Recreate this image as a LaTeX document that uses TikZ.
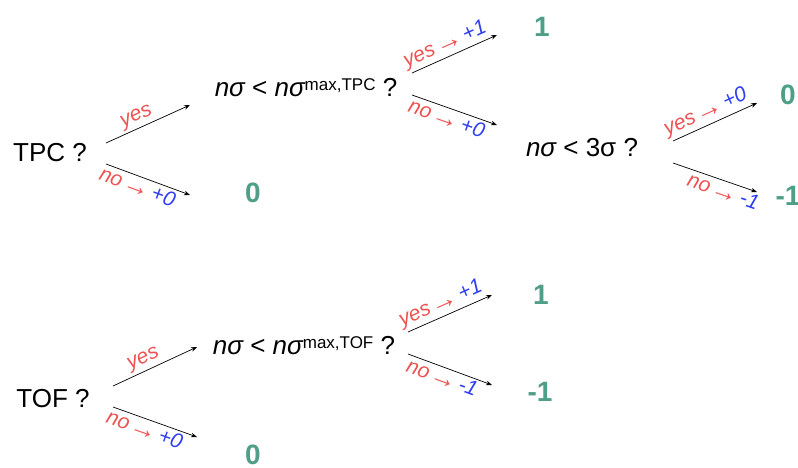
\documentclass[tikz,border=0pt]{standalone}
\usepackage{fontspec}
\setmainfont{Liberation Sans}
\usetikzlibrary{arrows.meta}
\definecolor{lblred}{HTML}{EE5252}
\definecolor{lblblue}{HTML}{2F3EEF}
\definecolor{resgreen}{HTML}{4E9E88}
\newcommand\bluepart[1]{\textcolor{lblblue}{#1}}
\newcommand\lblarrow{\hspace{2pt}{\fontsize{27}{27}\selectfont\raisebox{-1.5pt}{→}}\hspace{3pt}}
\newcommand\supsmall[1]{\raisebox{6pt}{\fontsize{17}{20}\selectfont #1}}
\tikzset{
 question/.style={font=\fontsize{26}{30}\selectfont, inner sep=0pt},
 result/.style={font=\fontsize{28}{32}\selectfont\bfseries, text=resgreen, inner sep=0pt},
 branch/.style={-{Stealth[length=6pt,width=4.5pt]}, line width=0.7pt},
 lbl/.style={font=\fontsize{21}{24}\selectfont\itshape, text=lblred, sloped, inner sep=2.5pt},
}
\begin{document}
\begin{tikzpicture}[x=1pt,y=-1pt]
\useasboundingbox (0,0) rectangle (798,468);
% ---------- upper tree ----------
\node[question] (tpc) at (50,153) {TPC ?};
\node[question] (q1) at (306,88) {{\itshape nσ} < {\itshape nσ}\supsmall{max,TPC} ?};
\node[result] (r0a) at (253,193) {0};
\node[result] (r1a) at (542,27) {1};
\node[question] (q2) at (582,148) {{\itshape nσ} < 3σ ?};
\node[result] (r0b) at (788,95) {0};
\node[result] (rm1a) at (788,196) {-1};

\coordinate (t1s) at (106,143); \coordinate (t1e) at (190,105);
\coordinate (t2s) at (106,164); \coordinate (t2e) at (190,195);
\coordinate (q1ys) at (412,73); \coordinate (q1ye) at (497,35);
\coordinate (q1ns) at (412,95); \coordinate (q1ne) at (497,125);
\coordinate (q2ys) at (673,141); \coordinate (q2ye) at (757,103);
\coordinate (q2ns) at (673,163); \coordinate (q2ne) at (757,192);

\draw[branch] (t1s) -- node[lbl,above,pos=0.42] {yes} (t1e);
\draw[branch] (t2s) -- node[lbl,below,pos=0.42] {no\lblarrow\bluepart{+0}} (t2e);
\draw[branch] (q1ys) -- node[lbl,above,pos=0.45] {yes\lblarrow\bluepart{+1}} (q1ye);
\draw[branch] (q1ns) -- node[lbl,below,pos=0.45] {no\lblarrow\bluepart{+0}} (q1ne);
\draw[branch] (q2ys) -- node[lbl,above,pos=0.45] {yes\lblarrow\bluepart{+0}} (q2ye);
\draw[branch] (q2ns) -- node[lbl,below,pos=0.64] {no\lblarrow\bluepart{-1}} (q2ne);

% ---------- lower tree ----------
\node[question] (tof) at (53,399) {TOF ?};
\node[question] (q3) at (304,346) {{\itshape nσ} < {\itshape nσ}\supsmall{max,TOF} ?};
\node[result] (r0c) at (253,455) {0};
\node[result] (r1b) at (541,295) {1};
\node[result] (rm1b) at (540,392) {-1};

\coordinate (o1s) at (113,386); \coordinate (o1e) at (197,347);
\coordinate (o2s) at (113,407); \coordinate (o2e) at (197,437);
\coordinate (q3ys) at (408,332); \coordinate (q3ye) at (492,295);
\coordinate (q3ns) at (408,354); \coordinate (q3ne) at (492,385);

\draw[branch] (o1s) -- node[lbl,above,pos=0.42] {yes} (o1e);
\draw[branch] (o2s) -- node[lbl,below,pos=0.42] {no\lblarrow\bluepart{+0}} (o2e);
\draw[branch] (q3ys) -- node[lbl,above,pos=0.45] {yes\lblarrow\bluepart{+1}} (q3ye);
\draw[branch] (q3ns) -- node[lbl,below,pos=0.45] {no\lblarrow\bluepart{-1}} (q3ne);
\end{tikzpicture}
\end{document}
